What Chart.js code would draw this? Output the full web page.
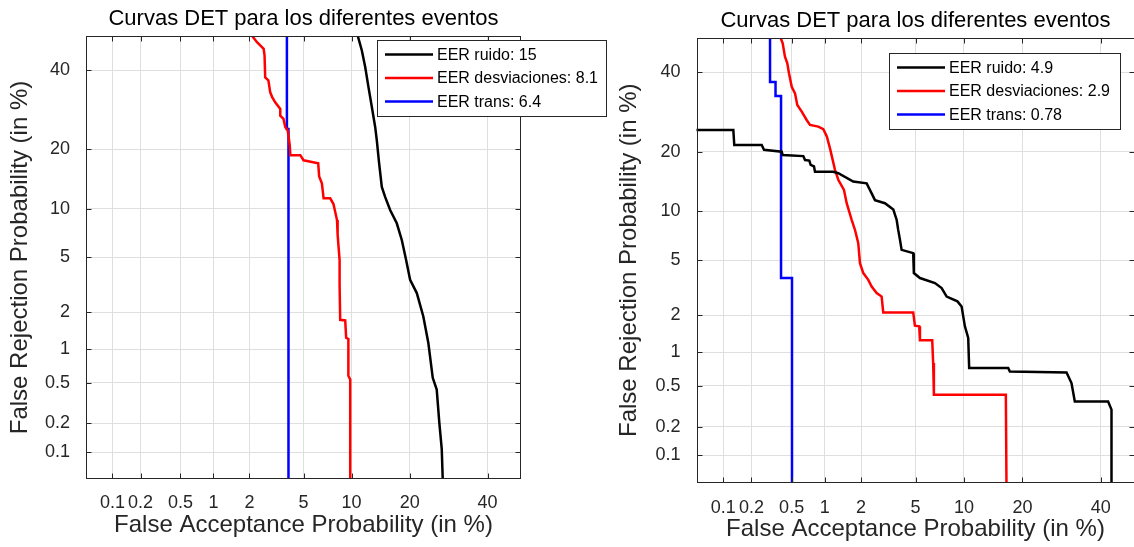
<!DOCTYPE html>
<html>
<head>
<meta charset="utf-8">
<title>Curvas DET</title>
<script src="https://cdn.jsdelivr.net/npm/chart.js@4.4.0/dist/chart.umd.min.js"></script>
<style>
  html, body { margin: 0; padding: 0; background: #fff; overflow: hidden; }
  #wrap { position: relative; width: 1134px; height: 547px; }
  canvas { position: absolute; top: 0; }
  #detLeft { left: 0; }
  #detRight { left: 567px; }
</style>
</head>
<body>
<div id="wrap">
  <canvas id="detLeft" width="620" height="547"></canvas>
  <canvas id="detRight" width="568" height="547"></canvas>
</div>
<script>
/* ejes: valores en % (escala normal / probit) */
const tickValues = [0.1, 0.2, 0.5, 1, 2, 5, 10, 20, 40];
const tickLabels = ['0.1', '0.2', '0.5', '1', '2', '5', '10', '20', '40'];
const axisMinPct = 0.05;
const axisMaxPct = 50;

/* grafico izquierdo */
const leftNames = ['EER ruido: 15', 'EER desviaciones: 8.1', 'EER trans: 6.4'];
const leftRuidoFA = [10.85, 11.43, 11.93, 12.43, 12.96, 13.5, 13.77, 14.16, 14.62, 15.2, 16.11, 17.37, 18.36, 19.23, 20.08, 21.53, 23.0, 24.17, 25.22, 26.19, 26.83, 27.44, 27.69, 27.75];
const leftRuidoFR = [50, 45.7, 40.9, 35.2, 29.9, 24.97, 21.9, 17.2, 13.1, 11.6, 9.81, 8.21, 6.49, 4.82, 3.51, 2.81, 1.86, 1.13, 0.556, 0.432, 0.204, 0.108, 0.05, 0.03];
const leftDesvFA = [2.1, 2.3, 2.58, 2.62, 2.65, 2.8, 2.89, 2.99, 3.15, 3.43, 3.43, 3.62, 3.73, 3.88, 4.01, 4.05, 4.75, 5.0, 6.25, 6.34, 6.6, 6.77, 7.45, 7.8, 8.2, 8.27, 8.5, 8.5, 8.57, 9.18, 9.3, 9.58, 9.58, 9.82, 9.82];
const leftDesvFR = [50, 48.1, 46.2, 44.2, 37.9, 37.1, 33.8, 32.5, 31.1, 29.4, 27.7, 26.9, 24.9, 24.2, 20.9, 18.8, 18.8, 17.8, 17.2, 14.85, 13.7, 11.4, 11.4, 10.6, 8.58, 7.0, 4.8, 3.25, 1.75, 1.73, 1.25, 1.22, 0.58, 0.536, 0.03];
const leftTransFA = [3.83, 3.83, 3.93, 3.93];
const leftTransFR = [50, 24.5, 24.5, 0.03];

/* grafico derecho */
const rightNames = ['EER ruido: 4.9', 'EER desviaciones: 2.9', 'EER trans: 0.78'];
const rightRuidoFA = [0.03, 0.129, 0.132, 0.255, 0.269, 0.402, 0.411, 0.642, 0.666, 0.728, 0.749, 0.802, 0.819, 1.18, 1.303, 1.73, 2.21, 2.415, 2.56, 3.04, 3.5, 3.70, 3.79, 3.90, 4.01, 4.82, 4.87, 5.35, 6.69, 7.37, 7.91, 9.17, 9.70, 10.13, 10.58, 10.71, 17.14, 17.45, 30.48, 31.8, 32.69, 42.14, 43.14, 43.14];
const rightRuidoFR = [24.8, 24.8, 21.4, 21.4, 20.4, 20.0, 19.3, 19.1, 18.3, 18.2, 17.4, 17.1, 16.1, 16.1, 15.85, 14.4, 14.1, 12.5, 11.5, 11.07, 10.2, 8.9, 7.8, 6.8, 5.84, 5.56, 4.09, 3.78, 3.48, 3.21, 2.78, 2.56, 2.34, 1.64, 1.32, 0.728, 0.728, 0.679, 0.665, 0.532, 0.357, 0.357, 0.297, 0.03];
const rightDesvFA = [0.393, 0.411, 0.432, 0.455, 0.472, 0.501, 0.538, 0.565, 0.621, 0.689, 0.739, 0.876, 0.97, 1.04, 1.108, 1.222, 1.303, 1.453, 1.53, 1.68, 1.786, 1.898, 1.958, 2.08, 2.274, 2.415, 2.637, 2.874, 2.954, 4.82, 4.95, 5.29, 5.35, 6.43, 6.52, 6.59, 16.69, 16.83];
const rightDesvFR = [50, 48.4, 44.5, 42.6, 39.7, 35.9, 34.1, 31.0, 29.3, 27.2, 26.0, 25.6, 25.0, 23.3, 20.7, 16.45, 14.7, 13.04, 11.07, 8.91, 7.78, 6.44, 4.78, 4.09, 3.67, 3.29, 2.95, 2.78, 2.11, 2.11, 1.66, 1.64, 1.26, 1.26, 0.806, 0.414, 0.414, 0.03];
const rightTransFA = [0.309, 0.309, 0.35, 0.35, 0.396, 0.396, 0.504, 0.504];
const rightTransFR = [50, 37.2, 37.2, 33.4, 33.4, 3.78, 3.78, 0.03];

const seriesColors = ['#000000', '#ff0000', '#0000ff'];
const fontFam = '"Liberation Sans", Arial, Helvetica, sans-serif';

// inversa de la normal (Acklam) -> eje DET
function probit(p) {
  const a = [-3.969683028665376e+01, 2.209460984245205e+02, -2.759285104469687e+02, 1.383577518672690e+02, -3.066479806614716e+01, 2.506628277459239e+00];
  const b = [-5.447609879822406e+01, 1.615858368580409e+02, -1.556989798598866e+02, 6.680131188771972e+01, -1.328068155288572e+01];
  const c = [-7.784894002430293e-03, -3.223964580411365e-01, -2.400758277161838e+00, -2.549732539343734e+00, 4.374664141464968e+00, 2.938163982698783e+00];
  const d = [7.784695709041462e-03, 3.224671290700398e-01, 2.445134137142996e+00, 3.754408661907416e+00];
  const pl = 0.02425;
  let q, r;
  if (p < pl) {
    q = Math.sqrt(-2 * Math.log(p));
    return (((((c[0]*q+c[1])*q+c[2])*q+c[3])*q+c[4])*q+c[5]) / ((((d[0]*q+d[1])*q+d[2])*q+d[3])*q+1);
  }
  if (p > 1 - pl) {
    q = Math.sqrt(-2 * Math.log(1 - p));
    return -(((((c[0]*q+c[1])*q+c[2])*q+c[3])*q+c[4])*q+c[5]) / ((((d[0]*q+d[1])*q+d[2])*q+d[3])*q+1);
  }
  q = p - 0.5; r = q * q;
  return (((((a[0]*r+a[1])*r+a[2])*r+a[3])*r+a[4])*r+a[5])*q / (((((b[0]*r+b[1])*r+b[2])*r+b[3])*r+b[4])*r+1);
}

function toPoints(fa, fr) {
  return fa.map((v, i) => ({ x: probit(v / 100), y: probit(fr[i] / 100) }));
}

/* marco + marcas hacia dentro, como en matlab */
const detFrame = {
  id: 'detFrame',
  afterDatasetsDraw(chart) {
    const { ctx, chartArea: a, scales } = chart;
    const L = Math.round(a.left) + 0.5, T = Math.round(a.top) + 0.5;
    const R = Math.round(a.right) - 0.5, B = Math.round(a.bottom) - 0.5;
    ctx.save();
    ctx.strokeStyle = '#262626';
    ctx.lineWidth = 1;
    ctx.beginPath();
    scales.x.ticks.forEach(t => {
      const px = Math.round(scales.x.getPixelForValue(t.value)) + 0.5;
      ctx.moveTo(px, B); ctx.lineTo(px, B - 5);
      ctx.moveTo(px, T); ctx.lineTo(px, T + 5);
    });
    scales.y.ticks.forEach(t => {
      const py = Math.round(scales.y.getPixelForValue(t.value)) + 0.5;
      ctx.moveTo(L, py); ctx.lineTo(L + 5, py);
      ctx.moveTo(R, py); ctx.lineTo(R - 5, py);
    });
    ctx.stroke();
    ctx.strokeRect(L, T, R - L, B - T);
    ctx.restore();
  },
  afterDraw(chart, args, opts) {
    const { ctx, chartArea: a } = chart;
    ctx.save();
    // titulo
    ctx.fillStyle = '#000';
    ctx.font = '22px ' + fontFam;
    ctx.textAlign = 'center';
    ctx.textBaseline = 'middle';
    ctx.fillText(opts.title, (a.left + a.right) / 2, opts.titleY);
    // leyenda con caja
    const box = opts.legendBox;
    ctx.fillStyle = '#fff';
    ctx.fillRect(box.x, box.y, box.w, box.h);
    ctx.strokeStyle = '#262626';
    ctx.lineWidth = 1;
    ctx.strokeRect(box.x + 0.5, box.y + 0.5, box.w, box.h);
    ctx.font = '16px ' + fontFam;
    ctx.textAlign = 'left';
    chart.data.datasets.forEach((ds, i) => {
      const yy = box.y + 14.5 + i * 23.5;
      ctx.strokeStyle = ds.borderColor;
      ctx.lineWidth = 2.5;
      ctx.beginPath();
      ctx.moveTo(box.x + 8, yy);
      ctx.lineTo(box.x + 56, yy);
      ctx.stroke();
      ctx.fillStyle = '#000';
      ctx.fillText(ds.label, box.x + 60, yy + 1);
    });
    ctx.restore();
  }
};

function makeDet(canvasId, names, faArrays, frArrays, lay) {
  const ctx = document.getElementById(canvasId).getContext('2d');
  const datasets = names.map((n, i) => ({
    label: n,
    data: toPoints(faArrays[i], frArrays[i]),
    borderColor: seriesColors[i],
    backgroundColor: 'transparent',
    borderWidth: 2.5,
    pointRadius: 0,
    tension: 0
  }));
  const tickFont = { family: fontFam, size: 18 };
  const titleFont = { family: fontFam, size: 24 };
  return new Chart(ctx, {
    type: 'line',
    data: { datasets: datasets },
    options: {
      responsive: false,
      animation: false,
      devicePixelRatio: 1,
      layout: { padding: { top: lay.top, right: lay.right, left: 0, bottom: 0 } },
      plugins: {
        legend: { display: false },
        tooltip: { enabled: false },
        detFrame: { title: 'Curvas DET para los diferentes eventos', titleY: lay.titleY, legendBox: lay.legendBox }
      },
      scales: {
        x: {
          type: 'linear',
          min: probit(axisMinPct / 100),
          max: probit(axisMaxPct / 100),
          afterBuildTicks: s => { s.ticks = tickValues.map(v => ({ value: probit(v / 100) })); },
          afterFit: s => { s.height = lay.xAxisH; },
          ticks: { autoSkip: false, maxRotation: 0, minRotation: 0, padding: lay.xTickPad, color: '#262626', font: tickFont,
                   callback: (v, i) => tickLabels[i] },
          grid: { color: '#dfdfdf', drawTicks: false },
          border: { display: false },
          title: { display: true, text: 'False Acceptance Probability (in %)', color: '#262626', font: titleFont,
                   padding: { top: 0, bottom: lay.xTitlePad } }
        },
        y: {
          type: 'linear',
          min: probit(axisMinPct / 100),
          max: probit(axisMaxPct / 100),
          afterBuildTicks: s => { s.ticks = tickValues.map(v => ({ value: probit(v / 100) })); },
          afterFit: s => { s.width = lay.yAxisW; },
          ticks: { autoSkip: false, padding: 16, color: '#262626', font: tickFont,
                   callback: (v, i) => tickLabels[i] },
          grid: { color: '#dfdfdf', drawTicks: false },
          border: { display: false },
          title: { display: true, text: 'False Rejection Probability (in %)', color: '#262626', font: titleFont,
                   padding: { top: lay.yTitlePad, bottom: 0 } }
        }
      }
    },
    plugins: [detFrame]
  });
}

makeDet('detLeft', leftNames,
  [leftRuidoFA, leftDesvFA, leftTransFA], [leftRuidoFR, leftDesvFR, leftTransFR],
  { top: 36, right: 99, xAxisH: 68, yAxisW: 86, xTickPad: 13, xTitlePad: 7, yTitlePad: 6, titleY: 19,
    legendBox: { x: 377, y: 40, w: 229, h: 76 } });

makeDet('detRight', rightNames,
  [rightRuidoFA, rightDesvFA, rightTransFA], [rightRuidoFR, rightDesvFR, rightTransFR],
  { top: 38, right: 0.5, xAxisH: 64.5, yAxisW: 129.5, xTickPad: 15, xTitlePad: 3, yTitlePad: 48, titleY: 21,
    legendBox: { x: 322, y: 53, w: 231, h: 76 } });
</script>
</body>
</html>
